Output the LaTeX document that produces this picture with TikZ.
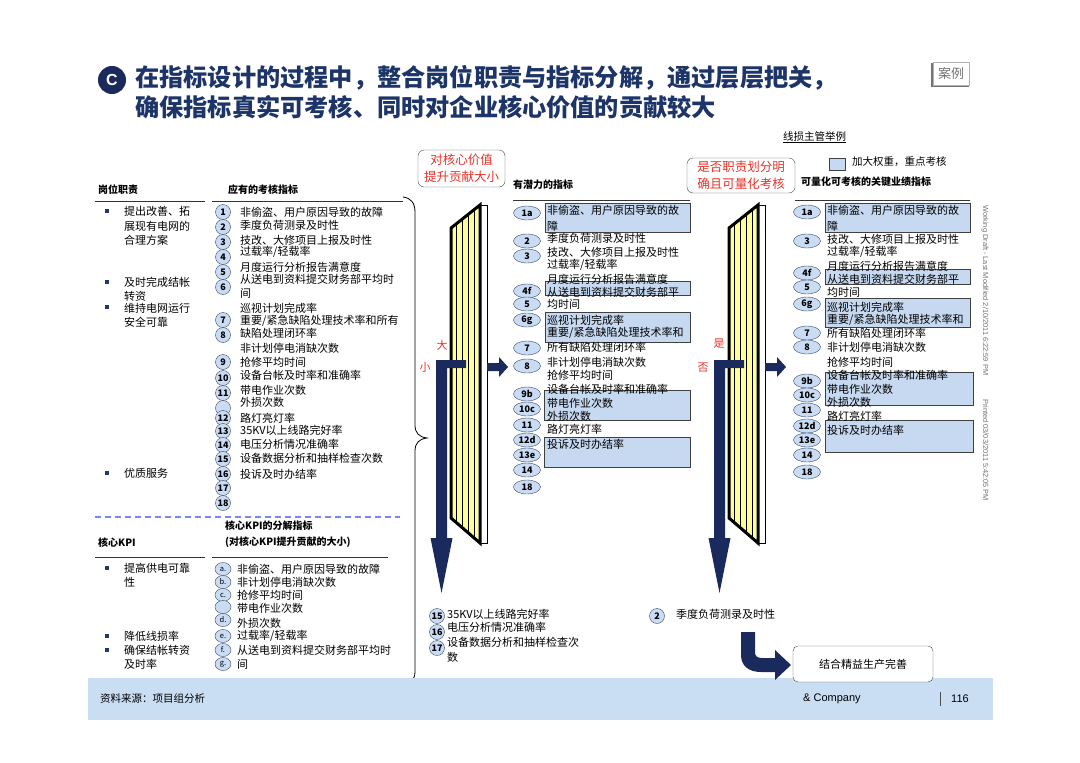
\documentclass[tikz,border=0pt]{standalone}
\usepackage{fontspec}
\setmainfont{Noto Sans CJK SC}
\newfontfamily\arial{Liberation Sans}
\usetikzlibrary{shapes.geometric,arrows.meta}
\definecolor{navy}{HTML}{1B2A5C}
\definecolor{titleblue}{HTML}{1C3467}
\definecolor{numfill}{HTML}{C9DCF3}
\definecolor{numborder}{HTML}{3A4A6A}
\definecolor{hlblue}{HTML}{C6D9F1}
\definecolor{footblue}{HTML}{C9DDF3}
\definecolor{redtxt}{HTML}{E8332A}
\definecolor{gridyellow}{HTML}{FFFF99}
\definecolor{bulletblue}{HTML}{1F3A6E}
\begin{document}
\begin{tikzpicture}[x=1pt,y=-1pt,
  txt/.style={anchor=west,inner sep=0pt,font=\fontsize{11}{12}\selectfont},
  hdr/.style={anchor=west,inner sep=0pt,font=\fontsize{10}{12}\selectfont\bfseries},
  bul/.style={fill=bulletblue,minimum size=3.5pt,inner sep=0pt},
  num/.style={circle,draw=numborder,fill=numfill,minimum size=15pt,inner sep=0pt,font=\fontsize{9}{10}\selectfont\bfseries},
  oval/.style={ellipse,draw=numborder,fill=numfill,minimum width=27pt,minimum height=14pt,inner sep=0pt,font=\fontsize{9}{10}\selectfont\bfseries},
  lett/.style={ellipse,draw=numborder,fill=numfill,minimum width=16pt,minimum height=13pt,inner sep=0pt,font=\fontsize{7.5}{8}\selectfont},
  hl/.style={draw=black!75,fill=hlblue},
  redbox/.style={draw=black!70,rounded corners=6pt,align=center,text=redtxt,inner xsep=2pt,inner ysep=2pt,font=\fontsize{12.5}{17}\selectfont},
  redlbl/.style={text=redtxt,font=\fontsize{11}{12}\selectfont,inner sep=0pt},
  rule/.style={draw=black!80,line width=0.8pt},
  bigarrow/.style={fill=navy},
  ttl/.style={anchor=west,inner sep=0pt,text=titleblue,font=\fontsize{24.2}{28}\selectfont\bfseries},
]
\useasboundingbox (0,0) rectangle (1080,763);
\fill[white] (0,0) rectangle (1080,763);

% ---------- title ----------
\node[circle,fill=navy,minimum size=28pt,inner sep=0pt,text=white,font=\fontsize{16}{16}\selectfont\bfseries\arial] (cmark) at (112,80) {C};
\node[ttl] (t1) at (135,78) {在指标设计的过程中，整合岗位职责与指标分解，通过层层把关，};
\node[ttl] (t2) at (135,107) {确保指标真实可考核、同时对企业核心价值的贡献较大};
\draw[black!55,line width=1.2pt] (932,63) -- (932,86) -- (969,86);
\node[draw=black!30,inner sep=2pt,text=black!55,font=\fontsize{13}{14}\selectfont,minimum width=36pt,minimum height=23pt] (case) at (951,74) {案例};

% ---------- top right legend ----------
\node[anchor=west,inner sep=0pt,font=\fontsize{10.5}{12}\selectfont] (ex) at (783,136) {线损主管举例};
\draw ([yshift=-1pt]ex.south west) -- ([yshift=-1pt]ex.south east);
\draw[hl] (829,158) rectangle (845,170);
\node[anchor=west,inner sep=0pt,font=\fontsize{10.5}{12}\selectfont] (leg) at (852,162) {加大权重，重点考核};

% ---------- left headers ----------
\node[hdr] (h1) at (98,190) {岗位职责};
\node[hdr] (h2) at (228,190) {应有的考核指标};
\draw[rule] (95,201) -- (205,201);
\draw[rule] (212,201) -- (403,201);

% bullets left
\foreach \y in {211,282,307,473} \node[bul] at (107,\y) {};
\node[txt] at (124,211) {提出改善、拓};
\node[txt] at (124,226) {展现有电网的};
\node[txt] at (124,240) {合理方案};
\node[txt] at (124,282) {及时完成结帐};
\node[txt] at (124,296) {转资};
\node[txt] at (124,308) {维持电网运行};
\node[txt] at (124,322) {安全可靠};
\node[txt] at (124,473) {优质服务};

% numbered circles
\node[num] (n1) at (223,212) {1};
\node[num] (n2) at (223,227) {2};
\node[num] (n3) at (223,242) {3};
\node[num] (n4) at (223,257) {4};
\node[num] (n5) at (223,272) {5};
\node[num] (n6) at (223,287) {6};
\node[num] (n7) at (223,320) {7};
\node[num] (n8) at (223,335) {8};
\node[num] (n9) at (223,362) {9};
\node[num] (n10) at (223,378) {10};
\node[num] (n11) at (223,393) {11};
\node[num] (n11b) at (223,408) {};
\node[num] (n12) at (223,418) {12};
\node[num] (n13) at (223,431) {13};
\node[num] (n14) at (223,445) {14};
\node[num] (n15) at (223,459) {15};
\node[num] (n16) at (223,474) {16};
\node[num] (n17) at (223,488) {17};
\node[num] (n18) at (223,503) {18};

\node[txt] at (240,212) {非偷盗、用户原因导致的故障};
\node[txt] at (240,225) {季度负荷测录及时性};
\node[txt] at (240,240) {技改、大修项目上报及时性};
\node[txt] at (240,252) {过载率/轻载率};
\node[txt] at (240,267) {月度运行分析报告满意度};
\node[txt] at (240,279) {从送电到资料提交财务部平均时};
\node[txt] at (240,293) {间};
\node[txt] at (240,308) {巡视计划完成率};
\node[txt] at (240,321) {重要/紧急缺陷处理技术率和所有};
\node[txt] at (240,333) {缺陷处理闭环率};
\node[txt] at (240,348) {非计划停电消缺次数};
\node[txt] at (240,362) {抢修平均时间};
\node[txt] at (240,375) {设备台帐及时率和准确率};
\node[txt] at (240,390) {带电作业次数};
\node[txt] at (240,402) {外损次数};
\node[txt] at (240,418) {路灯亮灯率};
\node[txt] at (240,430) {35KV以上线路完好率};
\node[txt] at (240,444) {电压分析情况准确率};
\node[txt] at (240,458) {设备数据分析和抽样检查次数};
\node[txt] at (240,474) {投诉及时办结率};

\draw[draw=numfill!60!blue,line width=1.2pt,dash pattern=on 6pt off 4pt] (95,517) -- (400,517);

% ---------- core KPI ----------
\node[hdr] at (225,526) {核心KPI的分解指标};
\node[hdr] at (225,542) {(对核心KPI提升贡献的大小)};
\node[hdr] at (98,543) {核心KPI};
\draw[rule] (95,557) -- (205,557);
\draw[rule] (212,557) -- (388,557);
\foreach \y in {568,636,650} \node[bul] at (107,\y) {};
\node[txt] at (124,568) {提高供电可靠};
\node[txt] at (124,582) {性};
\node[txt] at (124,636) {降低线损率};
\node[txt] at (124,650) {确保结帐转资};
\node[txt] at (124,664) {及时率};

\node[lett] (la) at (223,569) {a.};
\node[lett] (lb) at (223,582) {b.};
\node[lett] (lc) at (223,595) {c.};
\node[lett] (lcc) at (223,607) {};
\node[lett] (ld) at (223,620) {d.};
\node[lett] (le) at (223,636) {e.};
\node[lett] (lf) at (223,650) {f.};
\node[lett] (lg) at (223,664) {g.};
\node[txt] at (237,569) {非偷盗、用户原因导致的故障};
\node[txt] at (237,582) {非计划停电消缺次数};
\node[txt] at (237,595) {抢修平均时间};
\node[txt] at (237,608) {带电作业次数};
\node[txt] at (237,623) {外损次数};
\node[txt] at (237,636) {过载率/轻载率};
\node[txt] at (237,650) {从送电到资料提交财务部平均时};
\node[txt] at (237,664) {间};

% brace
\draw[line width=0.8pt] (403,197) .. controls (411,198) and (415,203) .. (415,212) -- (415,425)
  .. controls (415,433) and (419,437) .. (427,438) .. controls (419,439) and (415,443) .. (415,451)
  -- (415,672) .. controls (415,680) and (410,683) .. (403,684);

% ---------- red boxes ----------
\node[redbox,minimum width=87pt,minimum height=37pt] (rb1) at (461.5,168.5) {对核心价值\\提升贡献大小};
\node[redbox,minimum width=108pt,minimum height=35pt] (rb2) at (741,175.5) {是否职责划分明\\确且可量化考核};

% ---------- filter panels ----------
\foreach \dx in {0,278} {
\begin{scope}[shift={(\dx,0)}]
  \draw[fill=white,line width=0.6pt] (480,205) rectangle (487,543);
  \begin{scope}
    \clip (451,228) -- (480,205) -- (480,543) -- (451,518) -- cycle;
    \fill[gridyellow] (445,200) rectangle (485,550);
    \draw[black,line width=0.5pt,xstep=6,ystep=7] (448,200) grid (485,550);
  \end{scope}
  \draw[line width=3pt,line join=miter] (451,228) -- (480,205) -- (480,543) -- (451,518) -- cycle;
  % L-shaped down arrow
  \fill[bigarrow] (466,360) -- (436,360) -- (436,538) -- (430.5,538) -- (441.5,593) -- (452.5,538) -- (447,538) -- (447,368) -- (466,368) -- cycle;
  % right arrow
  \fill[bigarrow] (487,363) -- (499,363) -- (499,357) -- (508,367) -- (499,377) -- (499,371) -- (487,371) -- cycle;
\end{scope}
}

% side labels
\node[redlbl] at (442,345) {大};
\node[redlbl] at (425,367) {小};
\node[redlbl] at (719,344) {是};
\node[redlbl] at (703,368) {否};

% ---------- middle list ----------
\node[hdr] (mh) at (513,185) {有潜力的指标};
\draw[rule] (513,200) -- (690,200);
\draw[hl] (545,203) rectangle (690,232);
\draw[hl] (545,281) rectangle (690,295);
\draw[hl] (545,312) rectangle (690,342);
\draw[hl] (544,390) rectangle (690,420);
\draw[hl] (544,437) rectangle (690,467);
\node[oval] (m1a) at (527,213) {1a};
\node[oval] (m2) at (527,241) {2};
\node[oval] (m3) at (527,256) {3};
\node[oval] (m4f) at (527,291) {4f};
\node[oval] (m5) at (527,304) {5};
\node[oval] (m6g) at (527,320) {6g};
\node[oval] (m7) at (527,348) {7};
\node[oval] (m8) at (527,366) {8};
\node[oval] (m9b) at (527,394) {9b};
\node[oval] (m10c) at (527,409) {10c};
\node[oval] (m11) at (527,425) {11};
\node[oval] (m12d) at (527,440) {12d};
\node[oval] (m13e) at (527,455) {13e};
\node[oval] (m14) at (527,470) {14};
\node[oval] (m18) at (527,487) {18};
\node[txt] at (547,210) {非偷盗、用户原因导致的故};
\node[txt] at (547,226) {障};
\node[txt] at (547,238) {季度负荷测录及时性};
\node[txt] at (547,252) {技改、大修项目上报及时性};
\node[txt] at (547,265) {过载率/轻载率};
\node[txt] at (547,279) {月度运行分析报告满意度};
\node[txt] at (547,292) {从送电到资料提交财务部平};
\node[txt] at (547,304) {均时间};
\node[txt] at (547,320) {巡视计划完成率};
\node[txt] at (547,333) {重要/紧急缺陷处理技术率和};
\node[txt] at (547,347) {所有缺陷处理闭环率};
\node[txt] at (547,362) {非计划停电消缺次数};
\node[txt] at (547,375) {抢修平均时间};
\node[txt] at (547,389) {设备台帐及时率和准确率};
\node[txt] at (547,403) {带电作业次数};
\node[txt] at (547,416) {外损次数};
\node[txt] at (547,429) {路灯亮灯率};
\node[txt] at (547,444) {投诉及时办结率};

% ---------- right list ----------
\node[hdr] (rh) at (801,182) {可量化可考核的关键业绩指标};
\draw[rule] (795,200) -- (970,200);
\draw[hl] (825,203) rectangle (970,232);
\draw[hl] (825,269) rectangle (970,284);
\draw[hl] (825,298) rectangle (970,327);
\draw[hl] (825,372) rectangle (973,405);
\draw[hl] (825,420) rectangle (973,452);
\node[oval] (r1a) at (807,212) {1a};
\node[oval] (r3) at (807,241) {3};
\node[oval] (r4f) at (807,273) {4f};
\node[oval] (r5) at (807,287) {5};
\node[oval] (r6g) at (807,304) {6g};
\node[oval] (r7) at (807,333) {7};
\node[oval] (r8) at (807,347) {8};
\node[oval] (r9b) at (807,381) {9b};
\node[oval] (r10c) at (807,395) {10c};
\node[oval] (r11) at (807,410) {11};
\node[oval] (r12d) at (807,426) {12d};
\node[oval] (r13e) at (807,440) {13e};
\node[oval] (r14) at (807,455) {14};
\node[oval] (r18) at (807,472) {18};
\node[txt] at (827,210) {非偷盗、用户原因导致的故};
\node[txt] at (827,226) {障};
\node[txt] at (827,239) {技改、大修项目上报及时性};
\node[txt] at (827,252) {过载率/轻载率};
\node[txt] at (827,266) {月度运行分析报告满意度};
\node[txt] at (827,279) {从送电到资料提交财务部平};
\node[txt] at (827,292) {均时间};
\node[txt] at (827,307) {巡视计划完成率};
\node[txt] at (827,320) {重要/紧急缺陷处理技术率和};
\node[txt] at (827,333) {所有缺陷处理闭环率};
\node[txt] at (827,347) {非计划停电消缺次数};
\node[txt] at (827,362) {抢修平均时间};
\node[txt] at (827,375) {设备台帐及时率和准确率};
\node[txt] at (827,389) {带电作业次数};
\node[txt] at (827,402) {外损次数};
\node[txt] at (827,416) {路灯亮灯率};
\node[txt] at (827,430) {投诉及时办结率};

% vertical draft note
\node[rotate=-90,anchor=west,inner sep=0pt,text=black!55,font=\fontsize{7.4}{8}\selectfont\arial] (draft) at (985,205) {Working Draft - Last Modified 2/10/2011 6:22:59 PM\hspace{24pt}Printed 03/03/2011 5:42:05 PM};

% ---------- bottom ----------
\node[num] (b15) at (437,616) {15};
\node[num] (b16) at (437,632) {16};
\node[num] (b17) at (437,648) {17};
\node[txt] at (447,614) {35KV以上线路完好率};
\node[txt] at (447,627) {电压分析情况准确率};
\node[txt] at (447,642) {设备数据分析和抽样检查次};
\node[txt] at (447,657) {数};
\node[num] (b2) at (657,616) {2};
\node[txt] at (676,614) {季度负荷测录及时性};

% footer
\fill[footblue] (88,678) rectangle (993,720);
\node[anchor=west,inner sep=0pt,font=\fontsize{10.5}{12}\selectfont] at (100,699) {资料来源：项目组分析};
\node[anchor=west,inner sep=0pt,font=\fontsize{11}{12}\selectfont\arial] at (803,699) {\& Company};
\draw[line width=1pt,black!70] (940,692) -- (940,706);
\node[anchor=west,inner sep=0pt,font=\fontsize{11}{12}\selectfont\arial] at (951,699) {116};

\node[draw=black!70,fill=white,rounded corners=5pt,minimum width=140pt,minimum height=36pt,inner sep=0pt,font=\fontsize{11}{12}\selectfont] (fin) at (863,664) {结合精益生产完善};
\fill[bigarrow] (741,632) -- (755,632) -- (755,652) .. controls (755,656) and (757,658) .. (762,658) -- (775,658) -- (775,650) -- (791,665) -- (775,680) -- (775,672) -- (761,672) .. controls (749,672) and (741,666) .. (741,655) -- cycle;
\end{tikzpicture}
\end{document}
